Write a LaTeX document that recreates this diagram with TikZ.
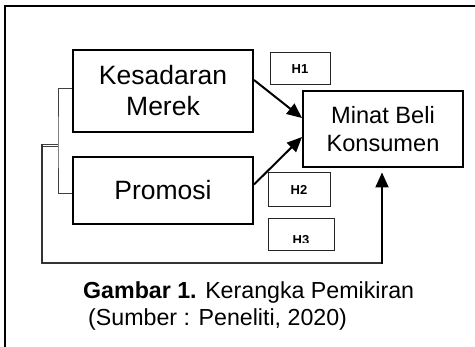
\documentclass[tikz,border=0pt]{standalone}
\usepackage{fontspec}
\setmainfont{Liberation Sans}
\usetikzlibrary{arrows.meta,calc}
\begin{document}
\begin{tikzpicture}[x=1pt,y=-1pt,
  bigbox/.style={draw=black,line width=2pt,inner sep=0pt,font=\fontsize{26.5}{31}\selectfont,align=center},
  minbox/.style={draw=black,line width=2pt,inner sep=0pt,font=\fontsize{23.6}{28}\selectfont,align=center},
  hbox/.style={draw=black!85,line width=1pt,inner sep=0pt,font=\fontsize{13}{15}\selectfont\bfseries},
  thinline/.style={draw=black!75,line width=0.9pt},
  arr/.style={line width=2pt,-{Triangle[length=15pt,width=13pt]}},
  captext/.style={anchor=base west,inner sep=0pt,font=\fontsize{23.2}{28}\selectfont}]
\useasboundingbox (0,0) rectangle (475,347);
% frame
\draw[line width=2pt] (5,347) -- (5,6) -- (475,6);
% boxes
\node[bigbox,minimum width=180pt,minimum height=82pt] (k) at (163,91) {Kesadaran\\Merek};
\node[bigbox,minimum width=180pt,minimum height=67pt] (p) at (163,190.5) {Promosi};
\node[minbox,minimum width=160pt,minimum height=76pt] (m) at (383,129) {Minat Beli\\Konsumen};
\node[hbox,minimum width=60pt,minimum height=32pt] (h1) at (300,69) {H1};
\node[hbox,minimum width=62pt,minimum height=34pt] (h2) at (299,190) {H2};
\node[hbox,minimum width=66pt,minimum height=32pt] (h3) at (301,235) {};
\begin{scope}
  \clip (268,219) rectangle (334,242.5);
  \node[font=\fontsize{13}{15}\selectfont\bfseries,inner sep=0pt] (h3t) at (301,240) {H3};
\end{scope}
% bracket
\coordinate (j) at (58,144);
\draw[thinline] ([yshift=3pt]k.west) -| (j) |- ([yshift=-2.5pt]p.west);
\draw[thinline] (j) -- (41,144);
\draw[thinline] (58,146.5) -- (41,146.5);
\draw[line width=1.6pt,draw=black!80] (42,144) -- (42,263) -- (382,263);
\draw[arr] (382,263.8) -- ([xshift=-1pt,yshift=-4.5pt]m.south);
% arrows
\draw[arr] ([yshift=11pt]k.east) -- ([yshift=11pt]m.west);
\draw[arr] ([yshift=6pt]p.east) -- ([yshift=-8pt]m.west);
% caption
\node[captext] (c1) at (83,299) {\textbf{Gambar 1.} Kerangka Pemikiran};
\node[captext] (c2) at (88,326) {(Sumber : Peneliti, 2020)};
\end{tikzpicture}
\end{document}
